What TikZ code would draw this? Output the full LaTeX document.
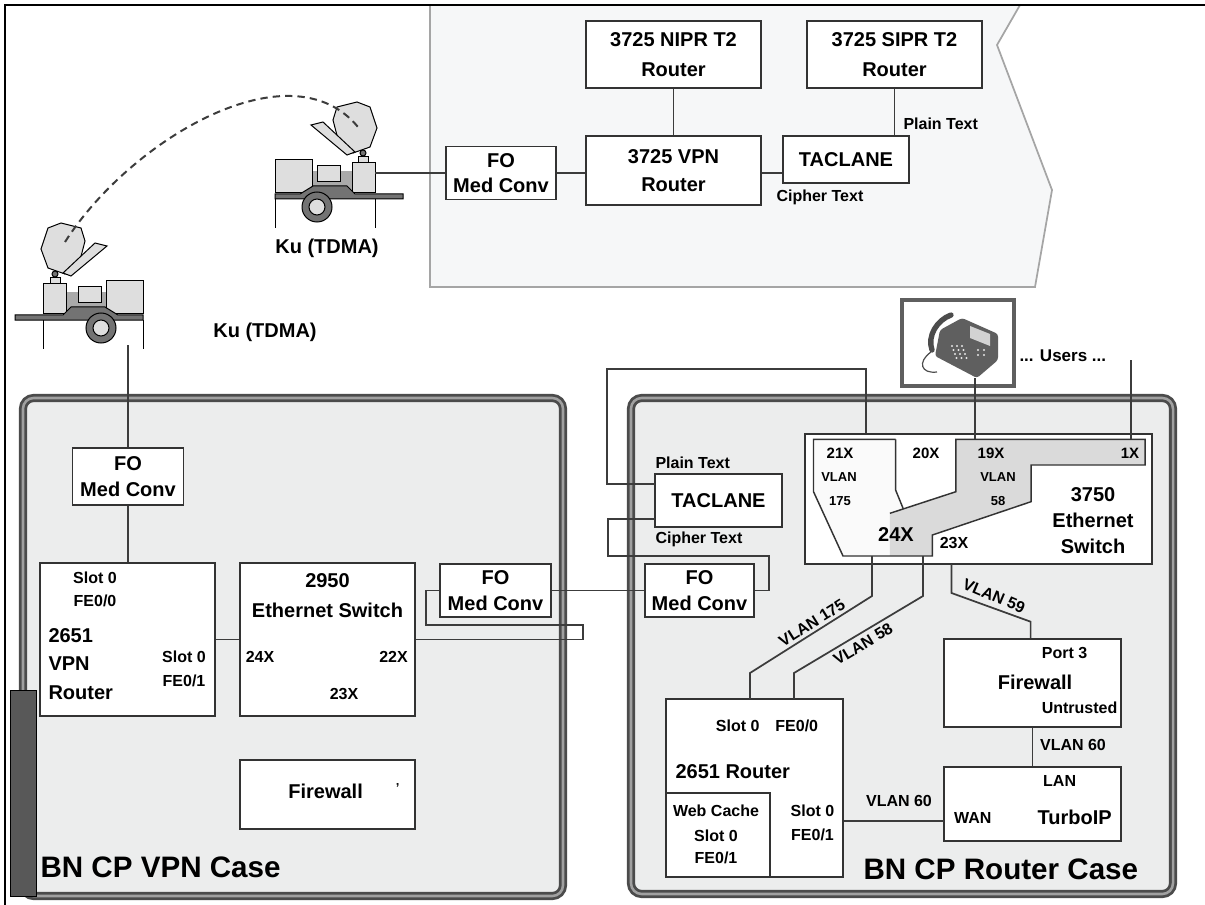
\documentclass[tikz,border=0pt]{standalone}
\usepackage{fontspec}
\setmainfont{Liberation Sans}

\definecolor{boxline}{RGB}{51,51,51}
\definecolor{wirecol}{RGB}{60,60,60}
\definecolor{casedark}{RGB}{75,75,75}
\definecolor{casemid}{RGB}{160,160,160}
\definecolor{casefill}{RGB}{236,237,237}
\definecolor{zonefill}{RGB}{246,247,248}
\definecolor{zoneline}{RGB}{165,165,165}
\definecolor{satlight}{RGB}{222,222,222}
\definecolor{satmid}{RGB}{170,170,170}
\definecolor{satdark}{RGB}{115,115,115}
\definecolor{vlanlight}{RGB}{250,250,250}
\definecolor{vlangray}{RGB}{218,218,218}
\definecolor{bardark}{RGB}{88,88,88}
\definecolor{phonegray}{RGB}{95,95,95}

\tikzset{every picture/.style={line width=0.75pt}}

\tikzset{
  dims/.style 2 args={minimum width=#1*0.75pt, minimum height=#2*0.75pt},
  box/.style={draw=boxline, fill=white, line width=1.3pt, inner sep=0pt, align=center,
    font=\bfseries\fontsize{15}{19}\selectfont},
  bigtxt/.style={inner sep=0pt, align=center, font=\bfseries\fontsize{15}{19}\selectfont},
  midtxt/.style={inner sep=0pt, align=center, font=\bfseries\fontsize{12}{15}\selectfont},
  porttxt/.style={inner sep=0pt, align=center, font=\bfseries\fontsize{11.25}{14}\selectfont},
  smalltxt/.style={inner sep=0pt, align=center, font=\bfseries\fontsize{9.75}{12}\selectfont},
  casetxt/.style={inner sep=0pt, anchor=west, font=\bfseries\fontsize{22.2}{25}\selectfont},
  wire/.style={draw=wirecol, line width=1.3pt},
  casebox/.style={draw=casedark, double=casemid, double distance=1.9pt, line width=2.1pt,
    fill=casefill, rounded corners=8pt},
  trailer/.pic={
    % body boxes on the platform
    \fill[satmid] (37,-28) rectangle (77,-6);
    \draw[fill=satlight] (0,-39) rectangle (37,-6);
    \draw[fill=satlight] (42,-33) rectangle (65,-17);
    \draw[fill=satlight] (77,-36) rectangle (100,-6);
    \draw[fill=satlight] (83,-42) rectangle (93,-36);
    \draw[fill=satdark] (0,-5) -- (25,-5) -- (38,-13) -- (72,-13) -- (80,-5) -- (128,-5) -- (128,0) -- (0,0) -- cycle;
    % legs and wheel
    \draw (0,0) -- (0,29) (100,0) -- (100,29);
    \draw[fill=satdark] (42,8) circle (15);
    \draw[fill=satlight] (42,8) circle (8);
    % dish and feed arm
    \draw[fill=satlight] (62,-92) -- (82,-97) -- (95,-92) -- (102,-71) -- (95,-52) -- (78,-46) -- (65,-52) -- (58,-79) -- cycle;
    \draw[fill=satdark] (88,-46) circle (3);
    \draw[fill=satlight] (36,-74) -- (48,-77) -- (80,-47) -- (72,-44) -- cycle;
  }
}

\begin{document}
\begin{tikzpicture}[x=0.75pt,y=0.75pt,yscale=-1,xscale=1]
	\useasboundingbox (0,0) rectangle (1205,905);
	
	%Shape: hub zone
	\draw[draw=zoneline, fill=zonefill, line width=1.3pt] (430,5) -- (1020,5) -- (997,45) -- (1052,190) -- (1035,287) -- (430,287) -- cycle;
	
	%Shape: cases
	\draw[casebox] (23,398) rectangle (563,896);
	\draw[casebox] (631,398) rectangle (1173,894);
	\draw[fill=bardark, draw=black] (10,690) rectangle (36,896);
	
	%Shape: terminals
	\pic[yscale=-1] at (275,199) {trailer};
	\pic[xscale=-1,yscale=-1] at (143,320) {trailer};
	\coordinate (sat2port) at (375,173);
	\coordinate (sat1port) at (128,345);
	%Curve Lines
	\draw[draw=wirecol, line width=1.5pt, dash pattern=on 5.5pt off 3.8pt] (65,242) .. controls (130,140) and (290,45) .. (358,127);
	
	% Text Node
	\node[bigtxt] (kutop) at (327,248) {Ku (TDMA)};
	\node[bigtxt] (kulow) at (265,332) {Ku (TDMA)};
	
	%Hub routers
	\node[box, dims={175}{67}] (nipr) at (673.5,54.5) {3725 NIPR T2\\[3pt]Router};
	\node[box, dims={175}{67}] (sipr) at (894.5,54.5) {3725 SIPR T2\\[3pt]Router};
	\node[box, dims={110}{53}] (fotop) at (501,173) {FO\\Med Conv};
	\node[box, dims={175}{69}] (vpn3725) at (673.5,170.5) {3725 VPN\\[2pt]Router};
	\node[box, dims={126}{47}] (tacltop) at (846,159.5) {TACLANE};
	\node[midtxt, anchor=west] (plaintop) at (903,124) {Plain Text};
	\node[midtxt, anchor=west] (ciphertop) at (776,197) {Cipher Text};
	
	\draw[wire] (sat2port) -- (fotop);
	\draw[wire] (fotop) -- (fotop -| vpn3725.west);
	\draw[wire] (vpn3725.east |- fotop) -- (tacltop.west |- fotop);
	\draw[wire] (nipr) -- (vpn3725);
	\draw[wire] (sipr) -- (sipr |- tacltop.north);
	
	%VPN case
	\node[box, dims={111}{57}] (fol) at (128,476.5) {FO\\Med Conv};
	\node[box, dims={175}{153}] (vpnr) at (127.5,639.5) {};
	\node[box, dims={175}{153}] (sw2950) at (327.5,639.5) {};
	\node[box, dims={111}{53}] (fom) at (495.5,590.5) {FO\\Med Conv};
	\node[box, dims={175}{69}] (fwl) at (327.5,794.5) {};
	
	\node[midtxt] (vslot0) at (95,578) {Slot 0};
	\node[midtxt] (vfe00) at (95,601) {FE0/0};
	\node[bigtxt, anchor=west] (v2651) at (48,636) {2651};
	\node[bigtxt, anchor=west] (vvpn) at (48,664) {VPN};
	\node[bigtxt, anchor=west] (vrouter) at (48,693) {Router};
	\node[midtxt] (vslot1) at (184,657) {Slot 0};
	\node[midtxt] (vfe01) at (184,681) {FE0/1};
	\node[bigtxt] (s2950) at (327.5,581) {2950};
	\node[bigtxt] (seth) at (327.5,610) {Ethernet Switch};
	\node[midtxt] (s24x) at (260,657) {24X};
	\node[midtxt] (s22x) at (393.5,657) {22X};
	\node[midtxt] (s23x) at (344,694) {23X};
	\node[bigtxt] (fwltxt) at (325.6,791) {Firewall};
	\node[smalltxt] (fwltick) at (397.6,788) {'};
	\node[casetxt] (vpncase) at (40,867) {BN CP VPN Case};
	
	\coordinate (loopA) at (583,625);
	\coordinate (loopB) at (426,625);
	\draw[wire] (sat1port) -- (fol);
	\draw[wire] (fol) -- (fol |- vpnr.north);
	\draw[wire] (vpnr) -- (sw2950);
	\draw[wire] (sw2950.east) -| (loopA) -- (loopB) |- (fom.west);
	
	%Router case
	\node[box, dims={127}{53}] (tacl) at (718.5,500.5) {TACLANE};
	\node[midtxt, anchor=west] (plain) at (655,463) {Plain Text};
	\node[midtxt, anchor=west] (cipher) at (655,539) {Cipher Text};
	\node[box, dims={109}{53}] (fomr) at (699.5,590.5) {FO\\Med Conv};
	
	\coordinate (cipA) at (769,556);
	\coordinate (cipB) at (608,556);
	\coordinate (taclC) at (655,519);
	\coordinate (taclP) at (655,484);
	\coordinate (plA) at (607,369);
	\coordinate (port21) at (866,439);
	\coordinate (port19) at (975,439);
	\coordinate (port1) at (1131,439);
	
	\draw[wire] (fom) -- (fomr);
	\draw[wire] (fomr.east) -| (cipA) -- (cipB) |- (taclC);
	\draw[wire] (taclP) -| (plA) -| (port21);
	
	%3750 switch
	\node[box, dims={347}{130}] (sw3750) at (978.5,499) {};
	\fill[vlanlight] (813.5,439.3) -- (895.6,439.3) -- (895.6,490) -- (903.3,508.9) -- (889.9,513.3) -- (889.9,556) -- (843,556) -- (813.5,491.7) -- cycle;
	\fill[vlangray] (889.9,513.3) -- (955.9,491.7) -- (955.9,439.3) -- (1145,439.3) -- (1145,465) -- (1031,465) -- (1031,501.7) -- (932.4,535) -- (932.4,556) -- (889.9,556) -- cycle;
	\draw[draw=boxline, line width=1.1pt] (895.6,439.3) -- (813.5,439.3) -- (813.5,491.7) -- (843,556) -- (932.4,556) -- (932.4,535) -- (1031,501.7) -- (1031,465) -- (1145,465) -- (1145,439.3) -- (955.9,439.3) -- (955.9,491.7) -- (889.9,513.3);
	\draw[draw=boxline, line width=1.1pt] (895.6,439.3) -- (895.6,490) -- (903.3,508.9);
	
	\node[porttxt] (p21x) at (840,453) {21X};
	\node[smalltxt] (p21v) at (839,477) {VLAN};
	\node[smalltxt] (p21n) at (840,501) {175};
	\node[porttxt] (p20x) at (926,453) {20X};
	\node[porttxt] (p19x) at (991,453) {19X};
	\node[smalltxt] (p19v) at (998,477) {VLAN};
	\node[smalltxt] (p19n) at (998,501) {58};
	\node[porttxt] (p1x) at (1130,453) {1X};
	\node[bigtxt] (p24x) at (896,535) {24X};
	\node[midtxt] (p23x) at (954,543) {23X};
	\node[bigtxt] (s3750) at (1093,495) {3750};
	\node[bigtxt] (s3750b) at (1093,520.5) {Ethernet};
	\node[bigtxt] (s3750c) at (1093,546) {Switch};
	
	%Phone
	\node[draw=phonegray, line width=3.4pt, fill=white, dims={112}{86}] (phone) at (958,343) {};
	\fill[phonegray, rounded corners=2pt] (940,330) -- (962,318) -- (998,334) -- (998,360) -- (977,378) -- (935,356) -- cycle;
	\draw[phonegray!80!black, line width=4pt, line cap=round] (932,350) .. controls (927,336) and (937,320) .. (951,315);
	\draw[phonegray!80!black, line width=0.9pt] (931,352) .. controls (917,362) and (921,374) .. (937,372);
	\fill[gray!35] (970,326) -- (990,334) -- (990,346) -- (970,338) -- cycle;
	\foreach \i in {0,1,2} \foreach \j in {0,1,2,3}
	  \fill[white!80!gray] (952+5*\i+1.5*\j,346+4*\j) circle (1.1);
	\foreach \i in {0,1} \foreach \j in {0,1}
	  \fill[white!80!gray] (978+6*\i,350+5*\j) circle (1.1);
	\node[midtxt, anchor=west] (users) at (1019,356) {\fontsize{12.75}{15}\selectfont... Users ...};
	\coordinate (phoneport) at (975,378);
	\coordinate (usersport) at (1131,360);
	\draw[wire] (phoneport) -- (port19);
	\draw[wire] (usersport) -- (port1);
	
	%Router case boxes
	\node[box, dims={177}{88}] (fwr) at (1032.5,683) {};
	\node[box, dims={177}{74}] (turbo) at (1032.5,804) {};
	\node[box, dims={177}{178}] (r2651) at (754.5,788) {};
	\node[box, dims={104}{84}] (webc) at (718,835) {};
	
	\node[midtxt] (fport3) at (1064.5,653) {Port 3};
	\node[bigtxt] (fwrtxt) at (1035,682) {Firewall};
	\node[midtxt] (funtr) at (1079.6,708) {Untrusted};
	\node[midtxt] (tlan) at (1059.6,781) {LAN};
	\node[midtxt] (twan) at (972.8,818) {WAN};
	\node[bigtxt] (ttxt) at (1074.7,817) {TurboIP};
	\node[midtxt] (rslot) at (767,726) {Slot 0\quad FE0/0};
	\node[bigtxt, anchor=west] (rtxt) at (675,772) {2651 Router};
	\node[midtxt] (wtxt) at (716,811) {Web Cache};
	\node[midtxt] (wslot) at (716,836) {Slot 0};
	\node[midtxt] (wfe) at (716,858) {FE0/1};
	\node[midtxt] (rslot1) at (812.5,811) {Slot 0};
	\node[midtxt] (rfe01) at (812.5,835) {FE0/1};
	\node[casetxt] (rtrcase) at (863,869) {BN CP Router Case};
	
	\coordinate (q175a) at (872,556);
	\coordinate (q175b) at (872,596);
	\coordinate (q175c) at (750,673);
	\coordinate (q175d) at (750,699);
	\coordinate (q58a) at (923,556);
	\coordinate (q58b) at (923,596);
	\coordinate (q58c) at (794,673);
	\coordinate (q58d) at (794,699);
	\coordinate (q59a) at (951.5,564);
	\coordinate (q59b) at (951.5,593);
	\coordinate (q59c) at (1030.6,621.7);
	\coordinate (wanport) at (944,821);
	
	\draw[wire] (q175a) -- (q175b) -- (q175c) -- (q175d);
	\draw[wire] (q58a) -- (q58b) -- (q58c) -- (q58d);
	\draw[wire] (q59a) -- (q59b) -- (q59c) -- (q59c |- fwr.north);
	\draw[wire] (fwr) -- (fwr |- turbo.north);
	\draw[wire] (r2651.east |- wanport) -- (wanport);
	
	\node[midtxt, rotate=32] (l175) at (812,623) {VLAN 175};
	\node[midtxt, rotate=31] (l58) at (863,644) {VLAN 58};
	\node[midtxt, rotate=-23] (l59) at (994,596) {VLAN 59};
	\node[midtxt] (l60a) at (1073,745) {VLAN 60};
	\node[midtxt] (l60b) at (899,801) {VLAN 60};
	
	%Frame
	\draw[line width=2pt] (5,905) -- (5,5) -- (1205,5);
	
\end{tikzpicture}
\end{document}
